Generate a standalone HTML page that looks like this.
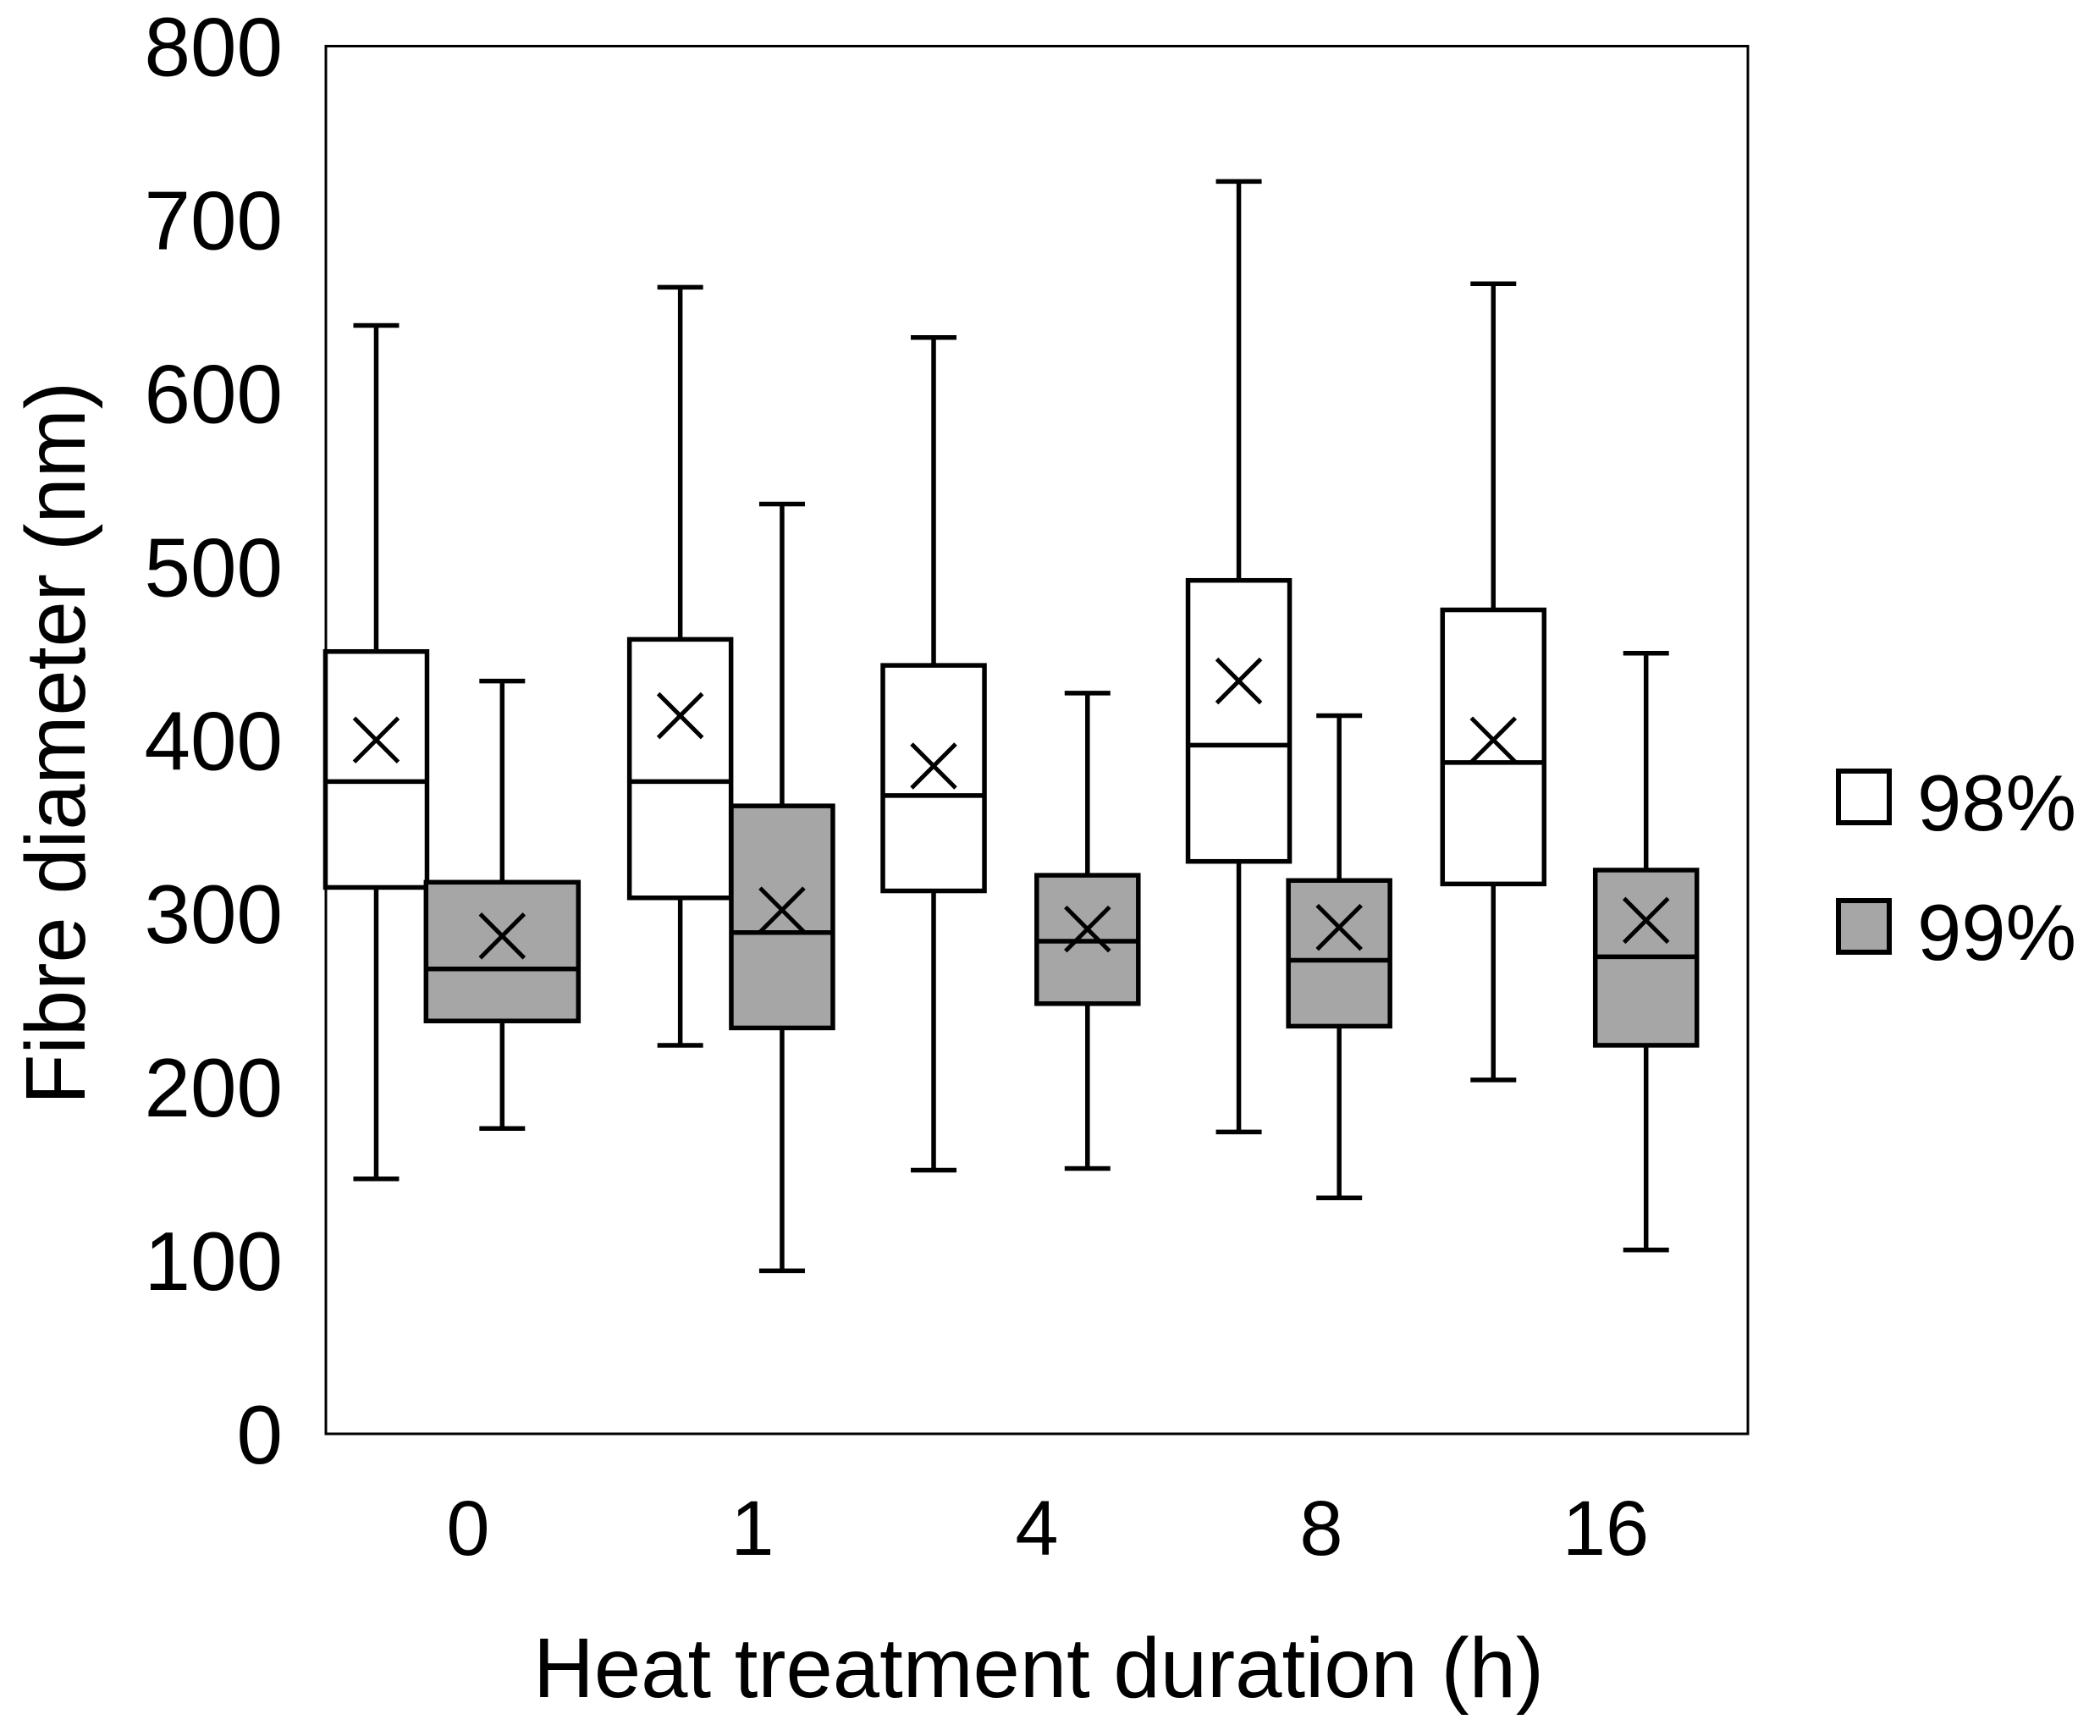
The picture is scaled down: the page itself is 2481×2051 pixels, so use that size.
<!DOCTYPE html>
<html><head><meta charset="utf-8"><style>
html,body{margin:0;padding:0;background:#fff;}
svg{display:block;font-family:"Liberation Sans",Arial,sans-serif;}
</style></head><body>
<svg id="chart" width="2481" height="2051" viewBox="0 0 2481 2051" xmlns="http://www.w3.org/2000/svg">
<rect x="385" y="54.5" width="1680" height="1639.5" fill="#fff" stroke="#000" stroke-width="3"/>
<g id="marks"></g>
<g id="yticks"></g>
<g id="xticks"></g>
<text x="1227" y="2005" font-size="100" text-anchor="middle" textLength="1194" lengthAdjust="spacingAndGlyphs">Heat treatment duration (h)</text>
<text transform="translate(100,878) rotate(-90)" font-size="100" text-anchor="middle" textLength="854" lengthAdjust="spacingAndGlyphs">Fibre diameter (nm)</text>
<g>
<rect x="2172" y="911" width="60" height="61" fill="#fff" stroke="#000" stroke-width="6"/>
<text x="2265" y="981" font-size="94">98%</text>
<rect x="2172" y="1064" width="60" height="61" fill="#a6a6a6" stroke="#000" stroke-width="6"/>
<text x="2265" y="1134" font-size="94">99%</text>
</g>
</svg>
<script>
const categories = ["0","1","4","8","16"];
const yTicks = [0,100,200,300,400,500,600,700,800];
// box positions in category units (0..5 across plot)
const whitePos = [0.177,1.246,2.137,3.210,4.105];
const grayPos  = [0.620,1.604,2.678,3.563,4.642];
const whiteMin = [147,224,152,174,204];
const whiteQ1  = [315,309,313,330,317];
const whiteMed = [376,376,368,397,387];
const whiteQ3  = [451,458,443,492,475];
const whiteMax = [639,661,632,722,663];
const whiteMean= [400,414,385,434,400];
const grayMin  = [176,94,153,136,106];
const grayQ1   = [238,234,248,235,224];
const grayMed  = [268,289,284,273,275];
const grayQ3   = [318,362,322,319,325];
const grayMax  = [434,536,427,414,450];
const grayMean = [287,302,291,292,296];

const NS="http://www.w3.org/2000/svg";
const X0=385, X1=2065, Y0=1694, Y1=54.5;
function yS(v){return Y0-(v/800)*(Y0-Y1);}
function xS(c){return X0+c*(X1-X0)/categories.length;}
function mk(tag,attrs,parent){const e=document.createElementNS(NS,tag);for(const k in attrs)e.setAttribute(k,attrs[k]);parent.appendChild(e);return e;}

const yg=document.getElementById('yticks');
yTicks.forEach(v=>{
  const t=mk('text',{x:334,y:yS(v)+35,'font-size':98,'text-anchor':'end'},yg);
  
  
  t.textContent=v;
});
const xg=document.getElementById('xticks');
categories.forEach((c,i)=>{
  const t=mk('text',{x:xS(i+0.5),y:1837,'font-size':92,'text-anchor':'middle'},xg);
  
  
  t.textContent=c;
});

const mg=document.getElementById('marks');
function box(pos,mn,q1,md,q3,mx,mean,fill,w,name){
  const g=mk('g',{},mg);
  
  
  const cx=xS(pos), sw=5.5, cap=27, xs=26;
  mk('line',{x1:cx,x2:cx,y1:yS(mx),y2:yS(q3),stroke:'#000','stroke-width':sw},g);
  mk('line',{x1:cx,x2:cx,y1:yS(q1),y2:yS(mn),stroke:'#000','stroke-width':sw},g);
  mk('line',{x1:cx-cap,x2:cx+cap,y1:yS(mx),y2:yS(mx),stroke:'#000','stroke-width':sw},g);
  mk('line',{x1:cx-cap,x2:cx+cap,y1:yS(mn),y2:yS(mn),stroke:'#000','stroke-width':sw},g);
  mk('rect',{x:cx-w/2,y:yS(q3),width:w,height:yS(q1)-yS(q3),fill:fill,stroke:'#000','stroke-width':sw},g);
  mk('line',{x1:cx-w/2,x2:cx+w/2,y1:yS(md),y2:yS(md),stroke:'#000','stroke-width':sw},g);
  const my=yS(mean);
  mk('line',{x1:cx-xs,x2:cx+xs,y1:my-xs,y2:my+xs,stroke:'#000','stroke-width':5},g);
  mk('line',{x1:cx-xs,x2:cx+xs,y1:my+xs,y2:my-xs,stroke:'#000','stroke-width':5},g);
}
categories.forEach((c,i)=>{
  box(whitePos[i],whiteMin[i],whiteQ1[i],whiteMed[i],whiteQ3[i],whiteMax[i],whiteMean[i],'#fff',120,'box-98-'+c+'h');
  box(grayPos[i],grayMin[i],grayQ1[i],grayMed[i],grayQ3[i],grayMax[i],grayMean[i],'#a6a6a6',i===0?180:120,'box-99-'+c+'h');
});
</script>
</body></html>
